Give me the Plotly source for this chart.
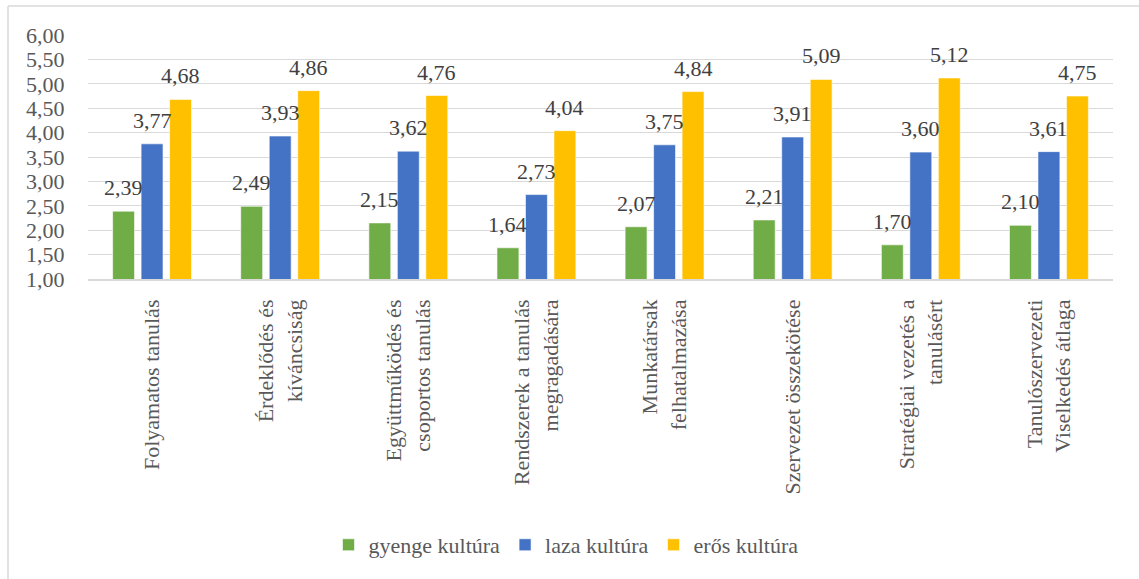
import plotly.graph_objects as go

categories = [
    "Folyamatos tanulás",
    "Érdeklődés és<br>kíváncsiság",
    "Együttműködés és<br>csoportos tanulás",
    "Rendszerek a tanulás<br>megragadására",
    "Munkatársak<br>felhatalmazása",
    "Szervezet összekötése",
    "Stratégiai vezetés a<br>tanulásért",
    "Tanulószervezeti<br>Viselkedés átlaga",
]
gyenge = [2.39, 2.49, 2.15, 1.64, 2.07, 2.21, 1.70, 2.10]
laza = [3.77, 3.93, 3.62, 2.73, 3.75, 3.91, 3.60, 3.61]
eros = [4.68, 4.86, 4.76, 4.04, 4.84, 5.09, 5.12, 4.75]

series = [
    ("gyenge kultúra", gyenge, "#70AD47"),
    ("laza kultúra", laza, "#4472C4"),
    ("erős kultúra", eros, "#FFC000"),
]

W, H = 1139, 579
ML, MR, MT, MB = 88, 26, 35, 300
BARGAP = 0.333
plot_w = W - ML - MR
plot_h = H - MT - MB
pitch = plot_w / len(categories) * (1 - BARGAP) / len(series)

FONT = "Liberation Serif"

fig = go.Figure()
annotations = []
for i, (name, vals, color) in enumerate(series):
    fig.add_trace(go.Bar(
        name=name, x=categories, y=vals,
        marker=dict(color=color, line=dict(color="white", width=0.6)),
    ))
    shift = (i - (len(series) - 1) / 2) * pitch
    for c, v in zip(categories, vals):
        annotations.append(dict(
            x=c, y=v, xref="x", yref="y",
            text=f"{v:.2f}".replace(".", ","),
            showarrow=False, xshift=shift, yshift=9,
            yanchor="bottom", xanchor="center",
            font=dict(family=FONT, size=22, color="#404040"),
        ))

# chart frame (left and top edges of the chart area border)
frame_x = (8 - ML) / plot_w
frame_y = (H - MB - 6) / plot_h

fig.update_layout(
    width=W, height=H,
    margin=dict(l=ML, r=MR, t=MT, b=MB),
    barmode="group", bargap=BARGAP, bargroupgap=0.23,
    separators=",.",
    paper_bgcolor="white", plot_bgcolor="white",
    font=dict(family=FONT, size=22, color="#595959"),
    annotations=annotations,
    showlegend=True,
    legend=dict(
        orientation="h", x=(566 - ML) / plot_w, xanchor="center",
        y=-1.09, yanchor="middle",
        font=dict(family=FONT, size=22, color="#595959"),
        itemwidth=30, tracegroupgap=0,
    ),
    shapes=[
        dict(type="line", xref="paper", yref="paper",
             x0=frame_x, x1=1.2, y0=frame_y, y1=frame_y,
             line=dict(color="#D9D9D9", width=1.5)),
        dict(type="line", xref="paper", yref="paper",
             x0=frame_x, x1=frame_x, y0=-1.5, y1=frame_y,
             line=dict(color="#D9D9D9", width=1.5)),
    ],
)
fig.update_xaxes(
    tickangle=-90, showline=True, linecolor="#D9D9D9", linewidth=1.5,
    ticks="", ticklabelstandoff=10,
    tickfont=dict(family=FONT, size=22, color="#595959"),
)
fig.update_yaxes(
    range=[1, 6], dtick=0.5, tickformat=".2f",
    showgrid=True, gridcolor="#D9D9D9", gridwidth=1.2,
    zeroline=False, ticks="outside", ticklen=18,
    tickcolor="rgba(0,0,0,0)",
    tickfont=dict(family=FONT, size=22, color="#595959"),
)

fig.write_html("out.html")
